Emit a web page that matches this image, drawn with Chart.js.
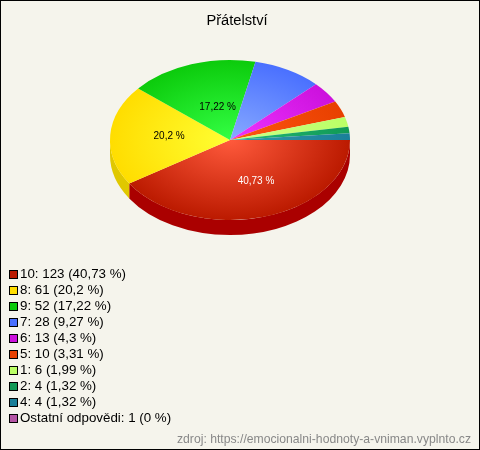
<!DOCTYPE html>
<html>
<head>
<meta charset="utf-8">
<script src="https://cdn.jsdelivr.net/npm/chart.js@4/dist/chart.umd.min.js"></script>
<style>
  html, body { margin: 0; padding: 0; background: #f5f4ec; }
  #frame { position: relative; width: 480px; height: 450px; box-sizing: border-box; overflow: hidden;
           border: 1px solid #000; background: #f5f4ec;
           font-family: "Liberation Sans", Arial, sans-serif; }
  #pie { position: absolute; left: -1px; top: -1px; }
  #legend { position: absolute; left: 8px; top: 265px; font-size: 13.33px; line-height: 16px; color: #000; }
  #legend div { height: 16px; white-space: nowrap; }
  #legend i { display: inline-block; width: 7px; height: 7px; border: 1px solid #000; margin-right: 2px; vertical-align: -0.5px; }
  #source { position: absolute; right: 8px; top: 431px; font-size: 12.2px; color: #888; white-space: nowrap; }
</style>
</head>
<body>
<div id="frame">
  <canvas id="pie" width="480" height="450"></canvas>
  <div id="legend"></div>
  <div id="source"></div>
</div>
<script>
const chartTitle = 'Přátelství';
const sourceText = 'zdroj: https://emocionalni-hodnoty-a-vniman.vyplnto.cz';
const categories = ['10', '8', '9', '7', '6', '5', '1', '2', '4', 'Ostatní odpovědi'];
const answers    = [123, 61, 52, 28, 13, 10, 6, 4, 4, 1];
const percents   = ['40,73', '20,2', '17,22', '9,27', '4,3', '3,31', '1,99', '1,32', '1,32', '0'];
// the last group is listed with 0 % and has no visible slice
const sliceValues = [123, 61, 52, 28, 13, 10, 6, 4, 4, 0];

// rim colour, centre colour, side wall colour
const rimColors    = ['#bb1a00', '#ffdd00', '#0ccb0c', '#4a70ff', '#cc11dd', '#e84000', '#bbff66', '#119955', '#1a7f99', '#b455a5'];
const centerColors = ['#ff5a3c', '#ffff33', '#33ff44', '#88aaff', '#ee33ff', '#ff5511', '#ccff88', '#22bb77', '#3399aa', '#cc66bb'];
const sideColors   = ['#aa0000', '#e0c800', '#0a9a0a', '#3355cc', '#9a0da8', '#b03000', '#8fc04d', '#0d7340', '#145f73', '#884080'];
const legendColors = ['#bb1a00', '#ffdd00', '#0ccb0c', '#4a70ff', '#cc11dd', '#e84000', '#bbff66', '#119955', '#1a7f99', '#b455a5'];

// ── Fake 3D: squash the pie into an ellipse and add a side wall ──────────────

const PIE_X = 230, PIE_Y = 140, RADIUS = 120, SQUASH = 2 / 3, DEPTH = 15;
const LABEL_MIN = 15;
const labelNudge = { 0: [9, 3], 1: [-1, -1], 2: [7, 5] };

const pie3d = {
  id: 'pie3d',
  beforeDatasetsDraw(chart) {
    const ctx = chart.ctx;
    const arcs = chart.getDatasetMeta(0).data;
    arcs.forEach((arc, i) => {
      const a0 = Math.max(arc.startAngle, 0);
      const a1 = Math.min(arc.endAngle, Math.PI);
      if (a1 <= a0) return;
      const ry = RADIUS * SQUASH;
      ctx.beginPath();
      ctx.ellipse(PIE_X, PIE_Y + DEPTH, RADIUS, ry, 0, a0, a1);
      ctx.ellipse(PIE_X, PIE_Y, RADIUS, ry, 0, a1, a0, true);
      ctx.closePath();
      ctx.fillStyle = sideColors[i];
      ctx.fill();
    });
    const first = arcs[0];
    ctx.save();
    ctx.translate(PIE_X, PIE_Y);
    ctx.scale(1, SQUASH);
    ctx.translate(-first.x, -first.y);
  },
  afterDatasetsDraw(chart) {
    const ctx = chart.ctx;
    ctx.restore();
    ctx.font = '10px "Liberation Sans", Arial, sans-serif';
    ctx.textAlign = 'center';
    ctx.textBaseline = 'middle';
    chart.getDatasetMeta(0).data.forEach((arc, i) => {
      if (answers[i] / 302 * 100 < LABEL_MIN) return;
      const mid = (arc.startAngle + arc.endAngle) / 2;
      const nudge = labelNudge[i] || [0, 0];
      const x = PIE_X + Math.cos(mid) * RADIUS * 0.5 + nudge[0];
      const y = PIE_Y + Math.sin(mid) * RADIUS * 0.5 * SQUASH + nudge[1];
      ctx.fillStyle = i === 0 ? '#fff' : '#000';
      ctx.fillText(percents[i] + ' %', x, y);
    });
  },
};

function sliceGradient(c) {
  const area = c.chart.chartArea;
  if (!area) return rimColors[c.dataIndex];
  const x = (area.left + area.right) / 2;
  const y = (area.top + area.bottom) / 2;
  const g = c.chart.ctx.createRadialGradient(x, y, 0, x, y, RADIUS);
  g.addColorStop(0, centerColors[c.dataIndex]);
  g.addColorStop(1, rimColors[c.dataIndex]);
  return g;
}

new Chart(document.getElementById('pie'), {
  type: 'pie',
  data: {
    labels: categories,
    datasets: [{
      data: sliceValues,
      radius: RADIUS,
      backgroundColor: sliceGradient,
      borderWidth: 0,
    }],
  },
  options: {
    responsive: false,
    animation: false,
    rotation: 90,
    layout: { padding: { right: 6 } },
    events: [],
    plugins: {
      legend: { display: false },
      tooltip: { enabled: false },
      title: {
        display: true,
        text: chartTitle,
        color: '#000',
        padding: { top: 12, bottom: 0 },
        font: { family: '"Liberation Sans", Arial, sans-serif', size: 14.67, weight: 'normal' },
      },
    },
  },
  plugins: [pie3d],
});

// ── HTML legend and source line ──────────────────────────────────────────────

document.getElementById('legend').innerHTML = categories.map((name, i) =>
  `<div><i style="background:${legendColors[i]}"></i>${name}: ${answers[i]} (${percents[i]} %)</div>`
).join('');
document.getElementById('source').textContent = sourceText;
</script>
</body>
</html>
